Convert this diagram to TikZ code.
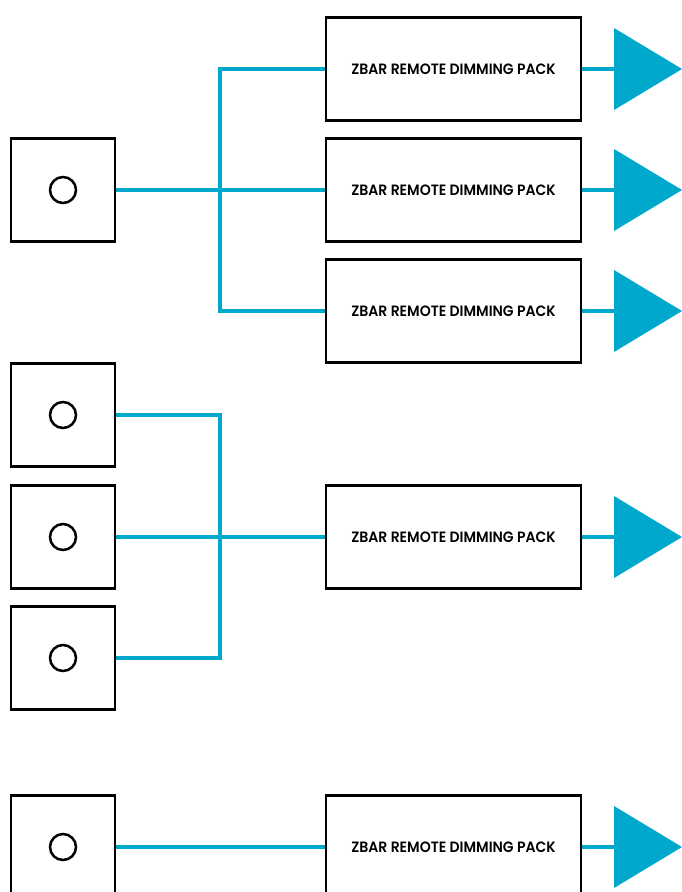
\documentclass[tikz,border=0pt]{standalone}
\usepackage{fontspec}
\newfontfamily\labelfont{Poppins}[UprightFont=* SemiBold]
\definecolor{zblue}{HTML}{00A8CC}
\newcommand{\packlabel}{\scalebox{1.03}[1.1]{ZBAR REMOTE DIMMING PACK}}
\begin{document}
\begin{tikzpicture}[x=1pt,y=-1pt,
  switchbox/.style={draw=black,line width=2.8pt,minimum width=104pt,minimum height=103pt,inner sep=0pt},
  packbox/.style={draw=black,line width=2.8pt,minimum width=255pt,minimum height=103pt,inner sep=0pt,font=\labelfont\fontsize{13.6}{15}\selectfont},
  knob/.style={draw=black,line width=2.5pt,circle,minimum size=26pt,inner sep=0pt},
  wire/.style={draw=zblue,line width=3.3pt},
  lamp/.style={fill=zblue}]
\useasboundingbox (0,0) rectangle (682,892);
% group 1
\node[switchbox] (s1) at (63,190) {};
\node[knob] (k1) at (s1.center) {};
\node[packbox] (p1) at (453.5,69) {\packlabel};
\node[packbox] (p2) at (453.5,190) {\packlabel};
\node[packbox] (p3) at (453.5,311) {\packlabel};
\coordinate (j1) at (220,190);
\draw[wire] (s1.east) -- (p2.west);
\draw[wire] (p1.west) -| (j1) |- (p3.west);
% group 2
\node[switchbox] (s2) at (63,415) {};
\node[knob] (k2) at (s2.center) {};
\node[switchbox] (s3) at (63,537) {};
\node[knob] (k3) at (s3.center) {};
\node[switchbox] (s4) at (63,658) {};
\node[knob] (k4) at (s4.center) {};
\node[packbox] (p4) at (453.5,537) {\packlabel};
\coordinate (j2) at (220,537);
\draw[wire] (s3.east) -- (p4.west);
\draw[wire] (s2.east) -| (j2) |- (s4.east);
% group 3
\node[switchbox] (s5) at (63,847) {};
\node[knob] (k5) at (s5.center) {};
\node[packbox] (p5) at (453.5,847) {\packlabel};
\draw[wire] (s5.east) -- (p5.west);
% lamps
\foreach \i/\y in {1/69,2/190,3/311,4/537,5/847}{
  \coordinate (t\i) at (614,\y);
  \fill[lamp] (t\i) ++(0,-41) -- ++(68,41) -- ++(-68,41) -- cycle;
  \draw[wire] (p\i.east) -- (t\i);
}
\end{tikzpicture}
\end{document}
